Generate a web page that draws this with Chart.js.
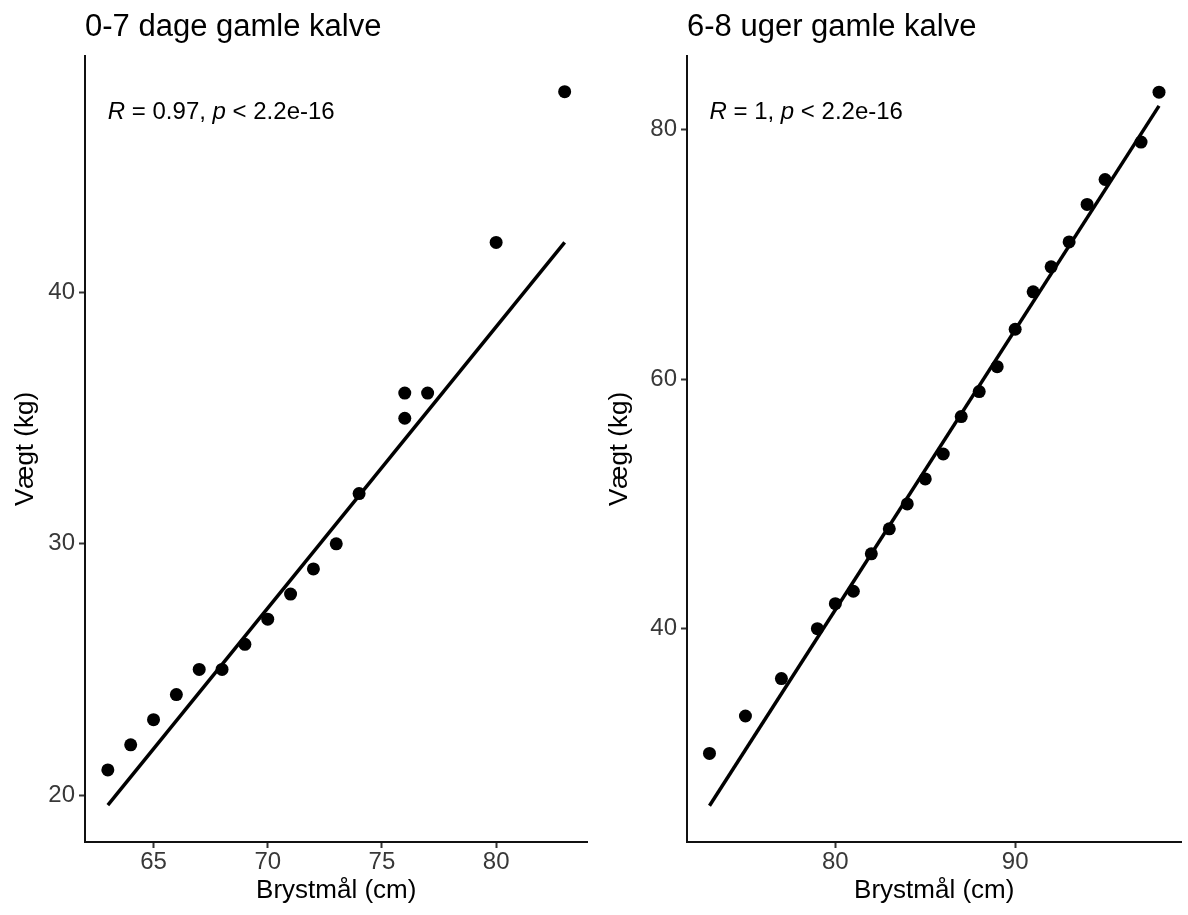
<!DOCTYPE html>
<html>
<head>
<meta charset="utf-8">
<script src="https://cdn.jsdelivr.net/npm/chart.js@4/dist/chart.umd.min.js"></script>
<style>
  html, body { margin: 0; padding: 0; background: #fff; }
  #wrap { position: relative; width: 1188px; height: 915px; }
  canvas { position: absolute; top: 0; }
  #calves07 { left: 0; }
  #calves68 { left: 594px; }
</style>
</head>
<body>
<div id="wrap">
  <canvas id="calves07" width="594" height="915"></canvas>
  <canvas id="calves68" width="594" height="915"></canvas>
</div>
<script>
// 0-7 days old calves: chest girth (cm) vs weight (kg)
const youngGirth  = [63, 64, 65, 66, 67, 68, 69, 70, 71, 72, 73, 74, 76, 76, 77, 80, 83];
const youngWeight = [21, 22, 23, 24, 25, 25, 26, 27, 28, 29, 30, 32, 35, 36, 36, 42, 48];
const youngFitGirth  = [63, 83];
const youngFitWeight = [19.6, 42.0];
const youngXTicks = [65, 70, 75, 80];
const youngYTicks = [20, 30, 40];

// 6-8 weeks old calves
const olderGirth  = [73, 75, 77, 79, 80, 81, 82, 83, 84, 85, 86, 87, 88, 89, 90, 91, 92, 93, 94, 95, 97, 98];
const olderWeight = [30, 33, 36, 40, 42, 43, 46, 48, 50, 52, 54, 57, 59, 61, 64, 67, 69, 71, 74, 76, 79, 83];
const olderFitGirth  = [73, 98];
const olderFitWeight = [25.8, 81.9];
const olderXTicks = [80, 90];
const olderYTicks = [40, 60, 80];

const FONT = '"Liberation Sans", Arial, Helvetica, sans-serif';

// Panel title above the plot area and the correlation label in its top-left corner
const panelText = {
  id: 'panelText',
  afterDraw(chart, args, opts) {
    const ctx = chart.ctx;
    const area = chart.chartArea;
    const xs = chart.scales.x, ys = chart.scales.y;
    ctx.save();
    ctx.fillStyle = '#000';
    ctx.textBaseline = 'alphabetic';
    ctx.textAlign = 'left';
    ctx.font = '31px ' + FONT;
    ctx.fillText(opts.title, area.left, 36);

    let x = xs.getPixelForValue(opts.labelX);
    const y = ys.getPixelForValue(opts.labelY) + 27;
    for (const [txt, italic] of opts.parts) {
      ctx.font = (italic ? 'italic ' : '') + '24px ' + FONT;
      ctx.fillText(txt, x, y);
      x += ctx.measureText(txt).width;
    }
    ctx.restore();
  }
};

function toPoints(xs, ys) {
  return xs.map((v, i) => ({ x: v, y: ys[i] }));
}

function axis(min, max, ticks, title, isX, size, titlePad) {
  return {
    type: 'linear',
    min: min,
    max: max,
    afterBuildTicks: s => { s.ticks = ticks.map(v => ({ value: v })); },
    afterFit: s => { if (isX) s.height = size; else s.width = size; },
    grid: {
      display: true,
      drawOnChartArea: false,
      drawTicks: true,
      tickLength: 6,
      tickWidth: 2,
      tickColor: '#333'
    },
    border: { display: true, color: '#111', width: 2 },
    ticks: {
      font: { size: 24, family: FONT },
      color: '#383838',
      padding: isX ? 0 : 4,
      maxRotation: 0,
      autoSkip: false
    },
    title: {
      display: true,
      text: title,
      color: '#000',
      font: { size: 26, family: FONT },
      padding: titlePad
    }
  };
}

function makePanel(id, gx, gy, fx, fy, xr, yr, xTicks, yTicks, title, rText, yWidth, padRight) {
  new Chart(document.getElementById(id), {
    type: 'scatter',
    data: {
      datasets: [
        {
          data: toPoints(gx, gy),
          pointRadius: 6.5,
          pointBackgroundColor: '#000',
          pointBorderWidth: 0,
          order: 2
        },
        {
          data: toPoints(fx, fy),
          showLine: true,
          borderColor: '#000',
          borderWidth: 3.5,
          pointRadius: 0,
          fill: false,
          order: 1
        }
      ]
    },
    options: {
      responsive: false,
      animation: false,
      devicePixelRatio: 1,
      layout: { padding: { left: 0, top: 56, right: padRight, bottom: 0 } },
      plugins: {
        legend: { display: false },
        tooltip: { enabled: false },
        panelText: {
          title: title,
          labelX: Math.min(...gx),
          labelY: Math.max(...gy),
          parts: [['R', true], [' = ' + rText + ', ', false], ['p', true], [' < 2.2e-16', false]]
        }
      },
      scales: {
        x: axis(xr[0], xr[1], xTicks, 'Brystmål (cm)', true, 73, { top: 0, bottom: 9 }),
        y: axis(yr[0], yr[1], yTicks, 'Vægt (kg)', false, yWidth, { top: 10, bottom: 0 })
      }
    },
    plugins: [panelText]
  });
}

makePanel('calves07', youngGirth, youngWeight, youngFitGirth, youngFitWeight,
  [62, 84], [18.13, 49.42], youngXTicks, youngYTicks,
  '0-7 dage gamle kalve', '0.97', 85, 5);

makePanel('calves68', olderGirth, olderWeight, olderFitGirth, olderFitWeight,
  [71.75, 99.25], [22.9, 85.9], olderXTicks, olderYTicks,
  '6-8 uger gamle kalve', '1', 93, 2);
</script>
</body>
</html>
